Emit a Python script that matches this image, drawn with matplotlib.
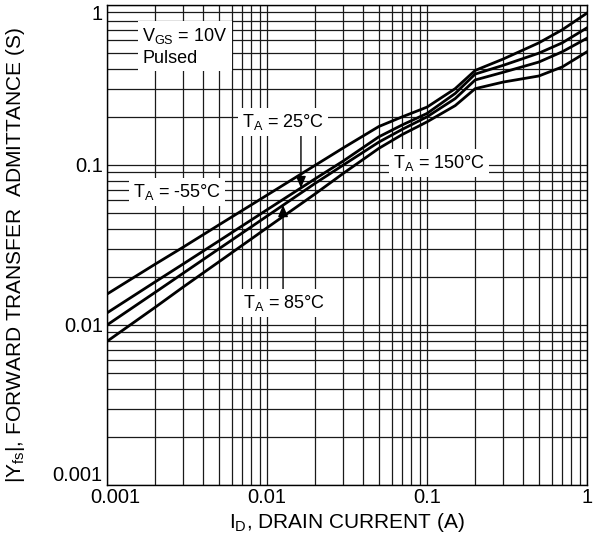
import matplotlib
matplotlib.use("Agg")
import matplotlib.pyplot as plt
import matplotlib.transforms as mtransforms
from matplotlib.ticker import LogLocator, FixedLocator, NullFormatter

plt.rcParams['font.family'] = ['Liberation Sans', 'DejaVu Sans']
plt.rcParams['mathtext.fontset'] = 'custom'
plt.rcParams['mathtext.rm'] = 'Liberation Sans'
plt.rcParams['mathtext.it'] = 'Liberation Sans:italic'

# Drain current (A)
drain_current = [0.001, 0.002, 0.003, 0.005, 0.01, 0.02, 0.03, 0.05, 0.07,
                 0.1, 0.15, 0.2, 0.3, 0.5, 0.7, 1.0]
# |Yfs| (S) per ambient temperature
yfs_m55 = [0.0156, 0.0240, 0.0307, 0.0422, 0.0648, 0.0996, 0.128, 0.174, 0.200,
           0.23, 0.30, 0.39, 0.46, 0.58, 0.70, 0.89]
yfs_25 = [0.0119, 0.0186, 0.0241, 0.0335, 0.0525, 0.082, 0.106, 0.150, 0.178,
          0.21, 0.28, 0.37, 0.42, 0.50, 0.58, 0.72]
yfs_85 = [0.0100, 0.0160, 0.0211, 0.0299, 0.0479, 0.0768, 0.100, 0.139, 0.167,
          0.20, 0.26, 0.34, 0.38, 0.44, 0.51, 0.62]
yfs_150 = [0.0079, 0.0129, 0.0173, 0.0248, 0.0405, 0.066, 0.0887, 0.127, 0.155,
           0.186, 0.235, 0.30, 0.33, 0.36, 0.41, 0.51]

x_ticks = [0.001, 0.01, 0.1, 1]
x_tick_labels = ['0.001', '0.01', '0.1', '1']
y_ticks = [0.001, 0.01, 0.1, 1]
y_tick_labels = ['0.001', '0.01', '0.1', '1']

W, H = 597, 542
fig = plt.figure(figsize=(W / 100, H / 100), dpi=100)
ax = fig.add_axes([107 / W, (H - 485) / H, 480 / W, 480 / H])
ax.set_xscale('log')
ax.set_yscale('log')
ax.set_xlim(0.001, 1)
ax.set_ylim(0.001, 1)

ax.xaxis.set_major_locator(FixedLocator(x_ticks))
ax.yaxis.set_major_locator(FixedLocator(y_ticks))
ax.set_xticklabels(x_tick_labels)
ax.set_yticklabels(y_tick_labels)
ax.xaxis.set_minor_locator(LogLocator(base=10, subs=range(2, 10), numticks=20))
ax.yaxis.set_minor_locator(LogLocator(base=10, subs=range(2, 10), numticks=20))
ax.xaxis.set_minor_formatter(NullFormatter())
ax.yaxis.set_minor_formatter(NullFormatter())
ax.tick_params(which='both', length=0, labelsize=14.5, colors='black')
ax.tick_params(axis='y', pad=3)
ax.tick_params(axis='x', pad=2)
ax.grid(True, which='both', color='#1a1a1a', linewidth=0.9)
ax.set_axisbelow(True)
for s in ax.spines.values():
    s.set_linewidth(1.0)
    s.set_color('black')

# nudge edge tick labels like the reference
ylabels = ax.get_yticklabels()
ylabels[0].set_va('bottom')
ylabels[-1].set_va('top')
xlabels = ax.get_xticklabels()
xlabels[0].set_transform(xlabels[0].get_transform() +
                         mtransforms.ScaledTranslation(8 / 100, 0, fig.dpi_scale_trans))

for ys in (yfs_m55, yfs_25, yfs_85, yfs_150):
    ax.plot(drain_current, ys, color='black', linewidth=2.0, zorder=3)

ax.set_xlabel(r'$\mathregular{I_D}$, DRAIN CURRENT (A)', fontsize=15)
ax.set_ylabel(r'$\mathregular{|Y_{fs}|}$, FORWARD TRANSFER  ADMITTANCE (S)', fontsize=15)
ax.xaxis.set_label_coords(0.5, -0.054)
ax.yaxis.set_label_coords(-0.167, 0.479)

box = dict(facecolor='white', edgecolor='none', pad=3)
tkw = dict(fontsize=13, zorder=5, bbox=box, va='center', ha='left')
ax.text(0.00166, 0.55, 'V$\\mathregular{_{GS}}$ = 10V\nPulsed', linespacing=1.3, **tkw)
ax.text(0.00145, 0.0678, 'T$\\mathregular{_A}$ = -55°C', **tkw)
ax.text(0.00698, 0.1857, 'T$\\mathregular{_A}$ = 25°C', **tkw)
ax.text(0.00708, 0.01373, 'T$\\mathregular{_A}$ = 85°C', **tkw)
ax.text(0.0613, 0.1029, 'T$\\mathregular{_A}$ = 150°C', **tkw)

akw = dict(arrowstyle='-|>,head_length=0.7,head_width=0.3', color='black', lw=1.0,
           shrinkA=0, shrinkB=0)
ax.annotate('', xy=(0.0163, 0.0718), xytext=(0.0163, 0.158), arrowprops=akw, zorder=4)
ax.annotate('', xy=(0.0126, 0.0562), xytext=(0.0126, 0.01655), arrowprops=akw, zorder=4)

fig.savefig('out.png', dpi=100)
